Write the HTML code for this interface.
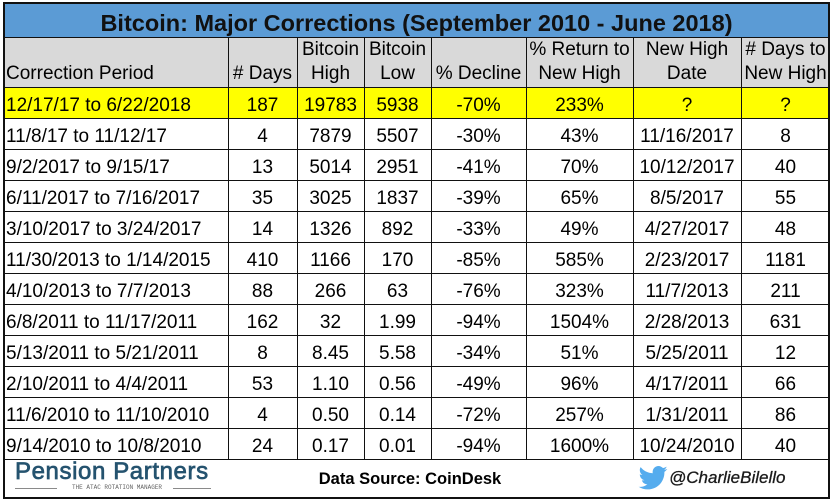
<!DOCTYPE html>
<html>
<head>
<meta charset="utf-8">
<style>
html,body{margin:0;padding:0;background:#fff;}
body{width:834px;height:502px;position:relative;overflow:hidden;font-family:"Liberation Sans",Arial,sans-serif;color:#000;}
.a{position:absolute;}
.hl{position:absolute;left:3px;width:827px;height:1px;background:#111;}
.vl{position:absolute;top:37px;height:422px;width:1px;background:#111;}
.row{position:absolute;left:0;width:834px;height:31px;}
.row div{position:absolute;top:0;height:31px;line-height:31px;font-size:19px;text-align:center;white-space:nowrap;}
.c0{left:6px;width:220px;text-align:left !important;}
.c1{left:228px;width:69px;}
.c2{left:297px;width:67px;}
.c3{left:364px;width:67px;}
.c4{left:431px;width:95px;}
.c5{left:526px;width:107px;}
.c6{left:633px;width:108px;}
.c7{left:741px;width:89px;}
.hdr div{position:absolute;top:37.5px;height:48px;line-height:24px;font-size:19px;text-align:center;white-space:nowrap;}
</style>
</head>
<body>
<!-- backgrounds -->
<div class="a" style="left:3px;top:2px;width:827px;height:35px;background:#5b9bd5;"></div>
<div class="a" style="left:3px;top:37px;width:827px;height:50px;background:#d9d9d9;"></div>
<div class="a" style="left:3px;top:87px;width:827px;height:31px;background:#ffff00;"></div>

<!-- title -->
<div class="a" style="left:3px;top:9px;width:827px;height:28px;line-height:28px;text-align:center;font-size:23.5px;font-weight:bold;color:#111;white-space:nowrap;">Bitcoin: Major Corrections (September 2010 - June 2018)</div>

<!-- header -->
<div class="hdr">
<div class="c0" style="padding-top:24px;height:24px;">Correction Period</div>
<div class="c1" style="padding-top:24px;height:24px;"># Days</div>
<div class="c2">Bitcoin<br>High</div>
<div class="c3">Bitcoin<br>Low</div>
<div class="c4" style="padding-top:24px;height:24px;">% Decline</div>
<div class="c5">% Return to<br>New High</div>
<div class="c6">New High<br>Date</div>
<div class="c7"># Days to<br>New High</div>
</div>

<!-- data rows -->
<div class="row" style="top:90px"><div class="c0">12/17/17 to 6/22/2018</div><div class="c1">187</div><div class="c2">19783</div><div class="c3">5938</div><div class="c4">-70%</div><div class="c5">233%</div><div class="c6">?</div><div class="c7">?</div></div>
<div class="row" style="top:121px"><div class="c0">11/8/17 to 11/12/17</div><div class="c1">4</div><div class="c2">7879</div><div class="c3">5507</div><div class="c4">-30%</div><div class="c5">43%</div><div class="c6">11/16/2017</div><div class="c7">8</div></div>
<div class="row" style="top:152px"><div class="c0">9/2/2017 to 9/15/17</div><div class="c1">13</div><div class="c2">5014</div><div class="c3">2951</div><div class="c4">-41%</div><div class="c5">70%</div><div class="c6">10/12/2017</div><div class="c7">40</div></div>
<div class="row" style="top:183px"><div class="c0">6/11/2017 to 7/16/2017</div><div class="c1">35</div><div class="c2">3025</div><div class="c3">1837</div><div class="c4">-39%</div><div class="c5">65%</div><div class="c6">8/5/2017</div><div class="c7">55</div></div>
<div class="row" style="top:214px"><div class="c0">3/10/2017 to 3/24/2017</div><div class="c1">14</div><div class="c2">1326</div><div class="c3">892</div><div class="c4">-33%</div><div class="c5">49%</div><div class="c6">4/27/2017</div><div class="c7">48</div></div>
<div class="row" style="top:245px"><div class="c0">11/30/2013 to 1/14/2015</div><div class="c1">410</div><div class="c2">1166</div><div class="c3">170</div><div class="c4">-85%</div><div class="c5">585%</div><div class="c6">2/23/2017</div><div class="c7">1181</div></div>
<div class="row" style="top:276px"><div class="c0">4/10/2013 to 7/7/2013</div><div class="c1">88</div><div class="c2">266</div><div class="c3">63</div><div class="c4">-76%</div><div class="c5">323%</div><div class="c6">11/7/2013</div><div class="c7">211</div></div>
<div class="row" style="top:307px"><div class="c0">6/8/2011 to 11/17/2011</div><div class="c1">162</div><div class="c2">32</div><div class="c3">1.99</div><div class="c4">-94%</div><div class="c5">1504%</div><div class="c6">2/28/2013</div><div class="c7">631</div></div>
<div class="row" style="top:338px"><div class="c0">5/13/2011 to 5/21/2011</div><div class="c1">8</div><div class="c2">8.45</div><div class="c3">5.58</div><div class="c4">-34%</div><div class="c5">51%</div><div class="c6">5/25/2011</div><div class="c7">12</div></div>
<div class="row" style="top:369px"><div class="c0">2/10/2011 to 4/4/2011</div><div class="c1">53</div><div class="c2">1.10</div><div class="c3">0.56</div><div class="c4">-49%</div><div class="c5">96%</div><div class="c6">4/17/2011</div><div class="c7">66</div></div>
<div class="row" style="top:400px"><div class="c0">11/6/2010 to 11/10/2010</div><div class="c1">4</div><div class="c2">0.50</div><div class="c3">0.14</div><div class="c4">-72%</div><div class="c5">257%</div><div class="c6">1/31/2011</div><div class="c7">86</div></div>
<div class="row" style="top:431px"><div class="c0">9/14/2010 to 10/8/2010</div><div class="c1">24</div><div class="c2">0.17</div><div class="c3">0.01</div><div class="c4">-94%</div><div class="c5">1600%</div><div class="c6">10/24/2010</div><div class="c7">40</div></div>

<!-- grid lines -->
<div class="hl" style="top:37px"></div>
<div class="hl" style="top:87px"></div>
<div class="hl" style="top:118px"></div>
<div class="hl" style="top:149px"></div>
<div class="hl" style="top:180px"></div>
<div class="hl" style="top:211px"></div>
<div class="hl" style="top:242px"></div>
<div class="hl" style="top:273px"></div>
<div class="hl" style="top:304px"></div>
<div class="hl" style="top:335px"></div>
<div class="hl" style="top:366px"></div>
<div class="hl" style="top:397px"></div>
<div class="hl" style="top:428px"></div>
<div class="hl" style="top:459px"></div>
<div class="vl" style="left:228px"></div>
<div class="vl" style="left:297px"></div>
<div class="vl" style="left:364px"></div>
<div class="vl" style="left:431px"></div>
<div class="vl" style="left:526px"></div>
<div class="vl" style="left:633px"></div>
<div class="vl" style="left:741px"></div>

<!-- outer border -->
<div class="a" style="left:3px;top:2px;width:823px;height:493px;border:2px solid #111;"></div>

<!-- footer -->
<div class="a" style="left:15px;top:459px;height:26px;line-height:26px;font-size:24px;letter-spacing:0.6px;color:#25536f;-webkit-text-stroke:0.7px #25536f;white-space:nowrap;">Pension Partners</div>
<div class="a" style="left:15px;top:488px;width:42px;height:1px;background:#8a8a8a;"></div>
<div class="a" style="left:173px;top:488px;width:38px;height:1px;background:#8a8a8a;"></div>
<div class="a" style="left:62px;top:484px;width:110px;height:8px;line-height:8px;font-size:6px;font-family:'Liberation Mono',monospace;color:#666;text-align:center;white-space:nowrap;">THE ATAC ROTATION MANAGER</div>

<div class="a" style="left:300px;top:469px;width:220px;height:20px;line-height:20px;font-size:16.5px;font-weight:bold;text-align:center;white-space:nowrap;">Data Source: CoinDesk</div>

<svg class="a" style="left:638px;top:466px;" width="30" height="24" viewBox="0 0 24 20">
<path fill="#55acee" d="M24 2.4c-.9.4-1.8.6-2.8.8 1-.6 1.8-1.6 2.2-2.7-1 .6-2 1-3.1 1.2C19.3.7 18 0 16.6 0c-2.7 0-4.9 2.2-4.9 4.9 0 .4 0 .8.1 1.1C7.7 5.8 4.1 3.9 1.7.9c-.4.7-.7 1.6-.7 2.5 0 1.700.9 3.2 2.2 4.1-.8 0-1.6-.2-2.2-.6v.1c0 2.4 1.7 4.4 3.9 4.8-.4.1-.8.2-1.3.2-.3 0-.6 0-.9-.1.6 2 2.4 3.4 4.6 3.4-1.7 1.3-3.8 2.1-6.1 2.1-.4 0-.8 0-1.2-.1 2.2 1.4 4.8 2.2 7.5 2.2 9.1 0 14-7.5 14-14v-.6c1-.7 1.8-1.6 2.5-2.5z"/>
</svg>
<div class="a" style="left:669px;top:467px;height:22px;line-height:22px;font-size:17px;font-style:italic;color:#1a1a1a;-webkit-text-stroke:0.3px #1a1a1a;white-space:nowrap;">@CharlieBilello</div>
</body>
</html>
